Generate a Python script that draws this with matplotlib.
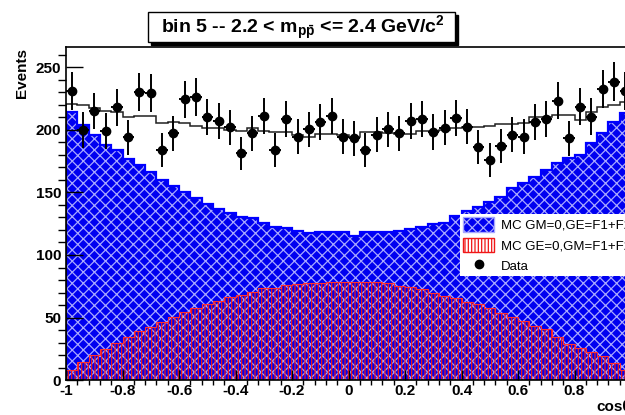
import numpy as np
import matplotlib
matplotlib.use("Agg")
from matplotlib import pyplot as plt
from matplotlib.patches import Rectangle, Patch
from matplotlib.lines import Line2D
from matplotlib.ticker import MultipleLocator, FuncFormatter

plt.rcParams['font.family'] = ['Liberation Sans', 'DejaVu Sans']
plt.rcParams['mathtext.fontset'] = 'custom'
plt.rcParams['mathtext.rm'] = 'Liberation Sans:bold'
plt.rcParams['mathtext.bf'] = 'Liberation Sans:bold'
plt.rcParams['mathtext.it'] = 'Liberation Sans:bold'

# 50 binow w cos(theta), od -1 do 1
edges = np.linspace(-1, 1, 51)

data = [231.4, 200.0, 215.2, 199.2, 218.1, 194.1, 230.4, 229.3, 184.0, 197.3,
        224.5, 226.4, 210.1, 207.2, 202.1, 181.3, 197.3, 211.2, 184.0, 208.5,
        194.7, 200.5, 206.1, 211.2, 194.7, 193.3, 184.0, 196.3, 200.5, 197.3,
        207.5, 208.5, 198.4, 201.9, 209.3, 202.7, 186.7, 176.0, 187.5, 196.3,
        194.7, 206.7, 208.8, 223.5, 193.3, 218.7, 210.7, 232.5, 238.7, 231.4]

mc_ge = [214, 204, 196, 188, 184, 176.5, 172, 166.7, 160, 155.2,
         150, 145.3, 140.8, 136.5, 133.9, 130, 129.3, 125.9, 122.7, 121.3,
         119.5, 117.3, 118.1, 118, 118, 115.5, 118, 118, 118, 119.2,
         120.8, 122.7, 124.8, 125.9, 131.5, 135.2, 138.7, 142.5, 146.7, 153.3,
         157.3, 162.1, 168, 173.3, 177.3, 180, 189.3, 197.9, 206.7, 213.3]

mc_gm = [8, 14.1, 20, 24.5, 29.3, 34.7, 39.2, 42.7, 46.7, 50.7,
         54.7, 57.9, 60.5, 63.5, 66.1, 68, 70.7, 73.3, 73.3, 76,
         76.8, 77.3, 78, 78.5, 78.5, 78.5, 78.5, 78.5, 78, 75.2,
         74.1, 72.5, 69.3, 67.2, 65.3, 62.7, 60.5, 57.3, 53.9, 50.7,
         47.5, 43.2, 40.5, 34.7, 28.8, 25.9, 22.7, 19.2, 13.3, 8]

mc_sum = [221, 220, 217.3, 215.5, 214, 210.1, 211.2, 211.2, 205.3, 206.1,
          205.3, 203.2, 201.9, 201.3, 200, 199.5, 201.3, 199.2, 198.1, 198.1,
          196, 194.7, 196.8, 196.8, 196, 194, 198.7, 198.7, 197.3, 197,
          197, 199.2, 199.2, 200, 201.3, 202.7, 202.7, 203.5, 204.5, 204.5,
          205.3, 210.1, 210.1, 212, 212, 208, 214.7, 218.1, 220, 222]

labels = ["MC GM=0,GE=F1+F2", "MC GE=0,GM=F1+F2", "Data"]

W, H = 625, 415
fig = plt.figure(figsize=(6.25, 4.15), dpi=100)
fig.patch.set_facecolor('white')
ax = fig.add_axes([66 / W, 1 - 380 / H, (631 - 66) / W, (380 - 47) / H])

centers = 0.5 * (edges[:-1] + edges[1:])
half = 0.5 * (edges[1] - edges[0])

plt.rcParams['hatch.linewidth'] = 0.9
ax.stairs(mc_ge, edges, fill=True, facecolor='#0000f0', edgecolor='#a8a8ff',
          hatch='xxx', linewidth=0, zorder=1)
ax.stairs(mc_ge, edges, color='#0000ff', linewidth=1.6, zorder=1.1)
ax.stairs(mc_gm, edges, fill=True, facecolor='none', edgecolor='#f01818',
          hatch='|||||', linewidth=0, zorder=1.2)
ax.stairs(mc_gm, edges, color='#ff3030', linewidth=0.8, zorder=1.3)
ax.stairs(mc_sum, edges, color='#202020', linewidth=1.1, zorder=2)

ax.errorbar(centers, data, yerr=np.sqrt(data), xerr=half, fmt='o',
            color='black', markersize=6, elinewidth=1.4, capsize=0, zorder=3)

ax.set_xlim(-1, 1)
ax.set_ylim(0, 266.4)

ax.xaxis.set_major_locator(MultipleLocator(0.2))
ax.xaxis.set_minor_locator(MultipleLocator(0.04))
ax.yaxis.set_major_locator(MultipleLocator(50))
ax.yaxis.set_minor_locator(MultipleLocator(10))
ax.xaxis.set_major_formatter(FuncFormatter(lambda v, p: '%g' % round(v, 2)))
ax.tick_params(axis='both', direction='in', labelsize=11, colors='black')
ax.tick_params(axis='y', which='major', length=12.2, width=1)
ax.tick_params(axis='y', which='minor', length=6.1, width=1)
ax.tick_params(axis='x', which='major', length=7.2, width=1, pad=3)
ax.tick_params(axis='x', which='minor', length=3.6, width=1)
for lab in ax.get_xticklabels() + ax.get_yticklabels():
    lab.set_fontweight('bold')
for s in ['left', 'top', 'bottom', 'right']:
    ax.spines[s].set_linewidth(1.2)

fig.text(22 / W, 1 - 48 / H, 'Events', rotation=90, ha='center', va='top',
         fontsize=11, fontweight='bold')
fig.text(631 / W, 1 - 411 / H, 'cosθ', ha='right', va='baseline',
         fontsize=11, fontweight='bold')

# ramka tytulu z cieniem
fig.add_artist(Rectangle((151 / W, 1 - 45 / H), (455 - 148) / W, 30 / H,
                         transform=fig.transFigure, facecolor='black',
                         edgecolor='black', zorder=5))
fig.add_artist(Rectangle((148 / W, 1 - 42 / H), (455 - 148) / W, 30 / H,
                         transform=fig.transFigure, facecolor='white',
                         edgecolor='black', linewidth=1, zorder=6))
fig.text(303 / W, 1 - 28 / H,
         r'bin 5 -- 2.2 < m$_{\mathrm{p\bar{p}}}$ <= 2.4 GeV/c$^{2}$',
         ha='center', va='center', fontsize=14, fontweight='bold', zorder=7)

handles = [Patch(facecolor='#0000f0', edgecolor='#a8a8ff', hatch='xxx'),
           Patch(facecolor='white', edgecolor='#f01818', hatch='|||||'),
           Line2D([], [], marker='o', color='black', linestyle='none',
                  markersize=6)]
leg = ax.legend(handles, labels, loc='upper left',
                bbox_to_anchor=(460 / W, 1 - 214 / H),
                bbox_transform=fig.transFigure, fontsize=9.5, frameon=True,
                fancybox=False, framealpha=1, borderpad=0.25,
                borderaxespad=0, handlelength=2.35, handleheight=1.29,
                labelspacing=0.45, handletextpad=0.5)
leg.get_frame().set_edgecolor('white')
leg.get_frame().set_linewidth(0)
leg.set_zorder(4)

fig.savefig('out.png', dpi=100)
